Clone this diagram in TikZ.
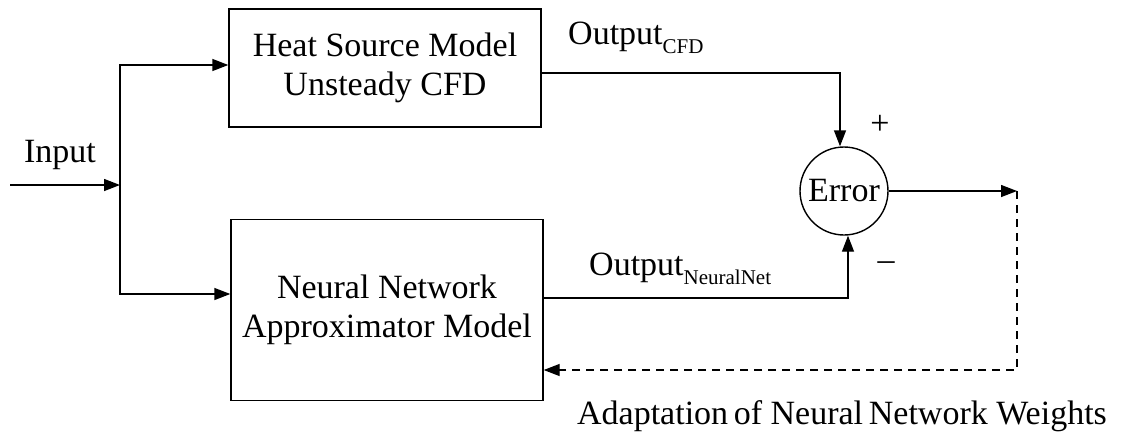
\documentclass[tikz,border=0pt]{standalone}
\usepackage{fontspec}
\setmainfont{Liberation Serif}
\usetikzlibrary{arrows.meta}
\tikzset{
  wire/.style={line width=1.4pt},
  arr/.style={wire,-{Triangle[length=16pt,width=12pt]}},
  block/.style={draw,line width=1.4pt,align=center,inner sep=0pt},
  lbl/.style={inner sep=0pt,anchor=center},
  sub/.style={}
}
\newcommand{\subtxt}[1]{\raisebox{-0.28em}{\fontsize{21}{21}\selectfont #1}}
\begin{document}
\begin{tikzpicture}[x=1pt,y=1pt,font=\fontsize{34}{39}\selectfont]
\useasboundingbox (0,0) rectangle (1132,-440);

% blocks
\node[block,minimum width=312pt,minimum height=118pt] (heat) at (385,-68)
  {Heat Source Model\\Unsteady CFD};
\node[block,minimum width=312pt,minimum height=181pt] (nn) at (387,-310)
  {Neural Network\\Approximator Model};
\node[draw,circle,line width=1.4pt,minimum size=88pt,inner sep=0pt] (err) at (844,-191) {Error};

% input and branch point
\coordinate (in) at (10,-185);
\coordinate (j) at (120,-185);
\coordinate (out) at (1017,-191);

\draw[arr] (in) -- (j);
\draw[arr] (j) |- ([yshift=3pt]heat.west);
\draw[arr] (j) |- ([yshift=16pt]nn.west);

% model outputs into the error junction
\draw[arr] ([yshift=-5pt]heat.east) -| ([xshift=-4pt]err.north);
\draw[arr] ([yshift=12pt]nn.east) -| ([xshift=4pt]err.south);

% error output and weight adaptation feedback
\draw[arr] (err.east) -- (out);
\draw[wire,dashed,dash pattern=on 8pt off 6pt,-{Triangle[length=16pt,width=12pt]}]
  (out) |- ([yshift=-60pt]nn.east);

% labels
\node[lbl] (linput) at (60,-155) {Input};
\node[lbl,anchor=base west] (lcfd) at (568,-44) {Output\subtxt{CFD}};
\node[lbl,anchor=base west] (lnn) at (589,-275) {Output\subtxt{NeuralNet}};
\node[lbl] (lplus) at (880,-125) {+};
\node[lbl] (lminus) at (886,-266) {--};
\node[lbl,anchor=base] (ladapt) at (842,-424) {Adaptation\,of Neural\,Network Weights};
\end{tikzpicture}
\end{document}
